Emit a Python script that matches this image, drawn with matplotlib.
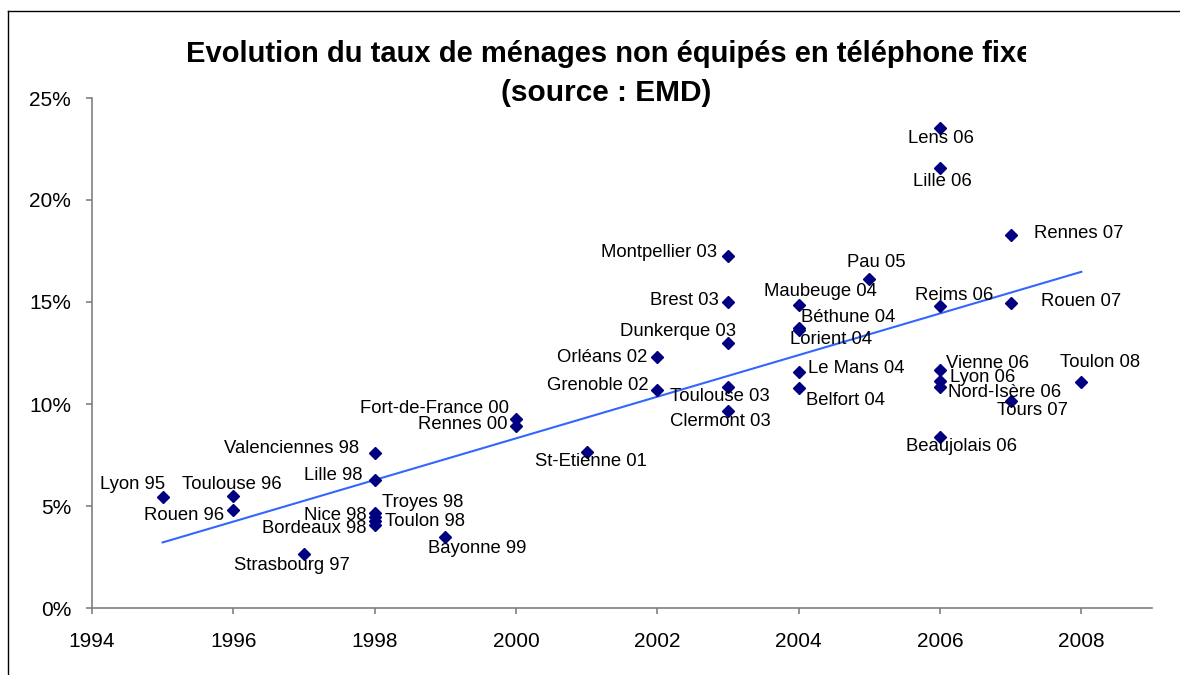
import matplotlib
matplotlib.use("Agg")
import matplotlib.pyplot as plt
import numpy as np
from matplotlib.lines import Line2D
from matplotlib.patches import Rectangle
from matplotlib.ticker import FuncFormatter

plt.rcParams['font.family'] = ['Liberation Sans', 'DejaVu Sans']

# ---- data ----
labels = ["Lyon 95", "Rouen 96", "Toulouse 96", "Strasbourg 97", "Valenciennes 98",
          "Lille 98", "Troyes 98", "Nice 98", "Toulon 98", "Bordeaux 98", "Bayonne 99",
          "Fort-de-France 00", "Rennes 00", "St-Etienne 01", "Orléans 02", "Grenoble 02",
          "Montpellier 03", "Brest 03", "Dunkerque 03", "Toulouse 03", "Clermont 03",
          "Maubeuge 04", "Béthune 04", "Lorient 04", "Le Mans 04", "Belfort 04", "Pau 05",
          "Lens 06", "Lille 06", "Reims 06", "Vienne 06", "Lyon 06", "Nord-Isère 06",
          "Beaujolais 06", "Rennes 07", "Rouen 07", "Tours 07", "Toulon 08"]
years = [1995, 1996, 1996, 1997, 1998,
         1998, 1998, 1998, 1998, 1998, 1999,
         2000, 2000, 2001, 2002, 2002,
         2003, 2003, 2003, 2003, 2003,
         2004, 2004, 2004, 2004, 2004, 2005,
         2006, 2006, 2006, 2006, 2006, 2006,
         2006, 2007, 2007, 2007, 2008]
rates = [5.44, 4.80, 5.49, 2.65, 7.60,
         6.27, 4.66, 4.46, 4.26, 4.07, 3.48,
         9.26, 8.92, 7.65, 12.30, 10.69,
         17.25, 15.00, 12.99, 10.83, 9.66,
         14.85, 13.73, 13.63, 11.57, 10.78, 16.13,
         23.53, 21.57, 14.80, 11.67, 11.13, 10.83,
         8.38, 18.28, 14.95, 10.15, 11.08]

title_line1 = "Evolution du taux de ménages non équipés en téléphone fixe"
title_line2 = "(source : EMD)"
xticks = [1994, 1996, 1998, 2000, 2002, 2004, 2006, 2008]
yticks = [0, 5, 10, 15, 20, 25]

# label placement (pixel offsets of label centre from marker)
label_offsets = {
    "Lyon 95": (-30, 13), "Rouen 96": (-49, -5), "Toulouse 96": (-2, 12),
    "Strasbourg 97": (-12, -12), "Valenciennes 98": (-83, 4), "Lille 98": (-41, 5),
    "Troyes 98": (48, 10), "Nice 98": (-39, 2), "Toulon 98": (50, 0),
    "Bordeaux 98": (-60, -4), "Bayonne 99": (32, -11), "Fort-de-France 00": (-82, 11),
    "Rennes 00": (-53, 2), "St-Etienne 01": (4, -10), "Orléans 02": (-55, 0),
    "Grenoble 02": (-60, 4), "Montpellier 03": (-69, 4), "Brest 03": (-44, 1),
    "Dunkerque 03": (-50, 12), "Toulouse 03": (-8, -9), "Clermont 03": (-8, -11),
    "Maubeuge 04": (22, 14), "Béthune 04": (50, 10), "Lorient 04": (32, -10),
    "Le Mans 04": (58, 3), "Belfort 04": (47, -12), "Pau 05": (7, 16),
    "Lens 06": (1, -11), "Lille 06": (2, -14), "Reims 06": (14, 11),
    "Vienne 06": (47, 6), "Lyon 06": (43, 3), "Nord-Isère 06": (65, -5),
    "Beaujolais 06": (21, -9), "Rennes 07": (68, 2), "Rouen 07": (70, 2),
    "Tours 07": (22, -10), "Toulon 08": (19, 19),
}

W, H = 1180, 675
fig = plt.figure(figsize=(W / 100, H / 100), dpi=100)
fig.patch.set_facecolor("white")

ax = fig.add_axes([92 / W, (H - 608) / H, (1152 - 92) / W, (608 - 98) / H])
ax.set_xlim(1994, 2009)
ax.set_ylim(0, 25)

# linear trend line
coef = np.polyfit(years, rates, 1)
xt = np.array([min(years), max(years)])
ax.plot(xt, np.polyval(coef, xt), color="#3366FF", lw=1.5, zorder=2)

ax.plot(years, rates, linestyle="none", marker="D", ms=6.3,
        color="#000080", mec="#000080", zorder=3)

for lab, x, y in zip(labels, years, rates):
    dx, dy = label_offsets[lab]
    ax.annotate(lab, (x, y), xytext=(dx, dy), textcoords="offset pixels",
                ha="center", va="center", fontsize=13.3, color="black", zorder=4)

ax.set_xticks(xticks)
ax.set_yticks(yticks)
ax.yaxis.set_major_formatter(FuncFormatter(lambda v, p: f"{int(v)}%"))
for s in ["top", "right"]:
    ax.spines[s].set_visible(False)
for s in ["left", "bottom"]:
    ax.spines[s].set_color("#808080")
    ax.spines[s].set_linewidth(1.2)
ax.tick_params(axis="both", direction="out", length=4, width=1.2,
               color="#808080", labelsize=15, labelcolor="black")
ax.tick_params(axis="y", pad=11)
ax.tick_params(axis="x", pad=13)

# title (cut off at the right, as in the original)
fig.text(609 / W, (H - 54) / H, title_line1, ha="center", va="center",
         fontsize=21, fontweight="bold", zorder=3)
fig.text(606 / W, (H - 93) / H, title_line2, ha="center", va="center",
         fontsize=21.5, fontweight="bold", zorder=3)
fig.add_artist(Rectangle((1026 / W, (H - 78) / H), 80 / W, 50 / H,
                         transform=fig.transFigure, facecolor="white",
                         edgecolor="none", zorder=6))

# outer frame
fig.add_artist(Line2D([7.5 / W, 7.5 / W], [0, (H - 10.5) / H], transform=fig.transFigure,
                      color="black", lw=1, zorder=7))
fig.add_artist(Line2D([7.5 / W, 1], [(H - 10.5) / H, (H - 10.5) / H],
                      transform=fig.transFigure, color="black", lw=1, zorder=7))

fig.savefig("out.png", dpi=100)
